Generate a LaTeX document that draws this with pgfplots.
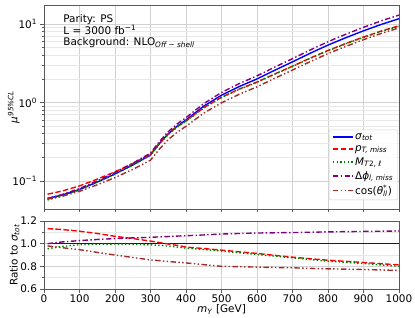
\documentclass[border=0pt]{standalone}
\usepackage{fontspec}
\setmainfont{DejaVu Sans}
\usepackage{pgfplots}
\pgfplotsset{compat=1.18}
\usepackage{pgfplotstable}

\definecolor{mblue}{rgb}{0,0,1}
\definecolor{mred}{rgb}{1,0,0}
\definecolor{mgreen}{rgb}{0,0.5,0}
\definecolor{mpurple}{HTML}{800080}
\definecolor{mbrown}{HTML}{A52A2A}
\definecolor{spine}{gray}{0.35}

\pgfplotstableread{
x sig pt mt2 dphi cos
10 0.0600 0.0680 0.0573 0.0600 0.0588
50 0.0660 0.0743 0.0644 0.0670 0.0637
100 0.0780 0.0866 0.0772 0.0801 0.0739
150 0.0970 0.1057 0.0965 0.1006 0.0895
200 0.1230 0.1310 0.1226 0.1285 0.1107
250 0.1600 0.1672 0.1592 0.1682 0.1405
300 0.2150 0.2199 0.2129 0.2270 0.1843
325 0.300 0.303 0.2955 0.318 0.255
350 0.400 0.3988 0.3912 0.4252 0.3372
375 0.500 0.4925 0.485 0.5335 0.418
400 0.600 0.582 0.576 0.642 0.498
450 0.900 0.8613 0.8532 0.9693 0.7335
500 1.24 1.1693 1.1594 1.3454 0.992
550 1.60 1.4848 1.472 1.744 1.2752
600 2.00 1.828 1.81 2.188 1.586
650 2.58 2.3143 2.2962 2.8277 2.0382
700 3.30 2.9073 2.8875 3.6234 2.5971
750 4.25 3.6848 3.655 4.6793 3.3235
800 5.40 4.6116 4.563 5.9616 4.2012
850 6.70 5.6548 5.5945 7.4102 5.1925
900 8.20 6.8388 6.765 9.0856 6.3304
950 9.90 8.1477 8.0388 10.989 7.6032
1000 11.7 9.5121 9.36 13.01 8.9271
}\topdata

\pgfplotstableread{
x sig pt mt2 dphi cos
10 1 1.133 0.955 1.000 0.980
50 1 1.125 0.975 1.015 0.965
100 1 1.110 0.990 1.027 0.947
150 1 1.090 0.995 1.037 0.923
200 1 1.065 0.997 1.045 0.900
250 1 1.045 0.995 1.051 0.878
300 1 1.023 0.990 1.056 0.857
325 1 1.010 0.985 1.060 0.850
350 1 0.997 0.978 1.063 0.843
375 1 0.985 0.970 1.067 0.836
400 1 0.970 0.960 1.070 0.830
450 1 0.957 0.948 1.077 0.815
500 1 0.943 0.935 1.085 0.800
550 1 0.928 0.920 1.090 0.797
600 1 0.914 0.905 1.094 0.793
650 1 0.897 0.890 1.096 0.790
700 1 0.881 0.875 1.098 0.787
750 1 0.867 0.860 1.101 0.782
800 1 0.854 0.845 1.104 0.778
850 1 0.844 0.835 1.106 0.775
900 1 0.834 0.825 1.108 0.772
950 1 0.823 0.812 1.110 0.768
1000 1 0.813 0.800 1.112 0.763
}\ratiodata

\tikzset{
  sigst/.style={draw=mblue, solid, line width=1.4bp},
  ptst/.style={draw=mred, line width=1.4bp, dash pattern=on 5.5bp off 2.4bp},
  mtst/.style={draw=mgreen, line width=1.4bp, dash pattern=on 1.4bp off 2.3bp},
  dphist/.style={draw=mpurple, line width=1.4bp, dash pattern=on 5.5bp off 2.4bp on 1.4bp off 2.4bp},
  cosst/.style={draw=mbrown, line width=1.4bp, dash pattern=on 5.5bp off 2.4bp on 1.4bp off 2.4bp on 1.4bp off 2.4bp},
}
\pgfplotsset{
  common/.style={
    scale only axis, width=355bp,
    xmin=0, xmax=1000,
    xtick={0,100,...,1000},
    tick align=outside, xtick pos=bottom, ytick pos=left,
    major tick length=3.5bp, minor tick length=2bp,
    every tick/.style={spine, line width=0.6bp},
    axis line style={spine, line width=0.8bp},
    grid=both,
    major grid style={gray!35, line width=0.8bp},
    minor grid style={gray!18, line width=0.6bp},
    tick label style={font=\fontsize{10.5}{12}\selectfont},
    xticklabel style={yshift=1.5bp},
    label style={font=\fontsize{10.5}{12}\selectfont},
    ylabel style={at={(rel axis cs:0,0.5)}, anchor=south, yshift=21bp},
  },
}

\begin{document}
\begin{tikzpicture}
\path[use as bounding box] (0,0) rectangle (415bp,318bp);

\begin{axis}[common,
  at={(44bp,109bp)}, anchor=south west, height=204bp,
  ymode=log, ymin=0.044, ymax=17.5,
  xticklabels={},
  ytick={0.1,1,10},
  yticklabels={10\textsuperscript{−1},10\textsuperscript{0},10\textsuperscript{1}},
  ylabel={\textit{μ}\textsuperscript{\textit{95\%CL}}},
  legend cell align=left,
  legend style={at={(rel axis cs:0.997,0.044)}, anchor=south east,
    draw=gray!35, rounded corners=2bp, fill=white, fill opacity=0.8, text opacity=1,
    font=\fontsize{10.5}{12}\selectfont, row sep=1.5bp,
    nodes={inner sep=1.6bp}},
  legend image code/.code={\draw[#1] (0bp,0bp) -- (20bp,0bp);},
]
\addplot[sigst] table[x=x,y=sig] {\topdata};
\addlegendentry{\textit{σ}\textsubscript{\textit{tot}}}
\addplot[ptst] table[x=x,y=pt] {\topdata};
\addlegendentry{\textit{p}\textsubscript{\textit{T, miss}}}
\addplot[mtst] table[x=x,y=mt2] {\topdata};
\addlegendentry{\textit{M}\textsubscript{\textit{T}2, \textit{ℓ}}}
\addplot[dphist] table[x=x,y=dphi] {\topdata};
\addlegendentry{Δ\textit{ϕ}\textsubscript{\textit{l, miss}}}
\addplot[cosst] table[x=x,y=cos] {\topdata};
\addlegendentry{cos(\textit{θ}\rlap{\textsuperscript{*}}\textsubscript{\textit{ll}})}
\node[anchor=north west, align=left, inner sep=0pt,
  font=\fontsize{10.5}{11.2}\selectfont]
  at (rel axis cs:0.054,0.955)
  {Parity: PS\\L = 3000 fb\textsuperscript{−1}\\Background: NLO\textsubscript{\textit{Off − shell}}};
\end{axis}

\begin{axis}[common,
  at={(44bp,29bp)}, anchor=south west, height=68bp,
  ymin=0.6, ymax=1.2,
  ytick={0.6,0.8,1.0,1.2},
  yticklabels={0.6,0.8,1.0,1.2},
  minor ytick={0.7,0.9,1.1},
  xticklabels={0,100,200,300,400,500,600,700,800,900,1000},
  xlabel={\textit{m}\textsubscript{\textit{Y}} [GeV]},
  xlabel style={yshift=4.5bp},
  ylabel={Ratio to \textit{σ}\textsubscript{\textit{tot}}},
]
\addplot[sigst] table[x=x,y=sig] {\ratiodata};
\addplot[ptst] table[x=x,y=pt] {\ratiodata};
\addplot[mtst] table[x=x,y=mt2] {\ratiodata};
\addplot[dphist] table[x=x,y=dphi] {\ratiodata};
\addplot[cosst] table[x=x,y=cos] {\ratiodata};
\end{axis}
\end{tikzpicture}
\end{document}
